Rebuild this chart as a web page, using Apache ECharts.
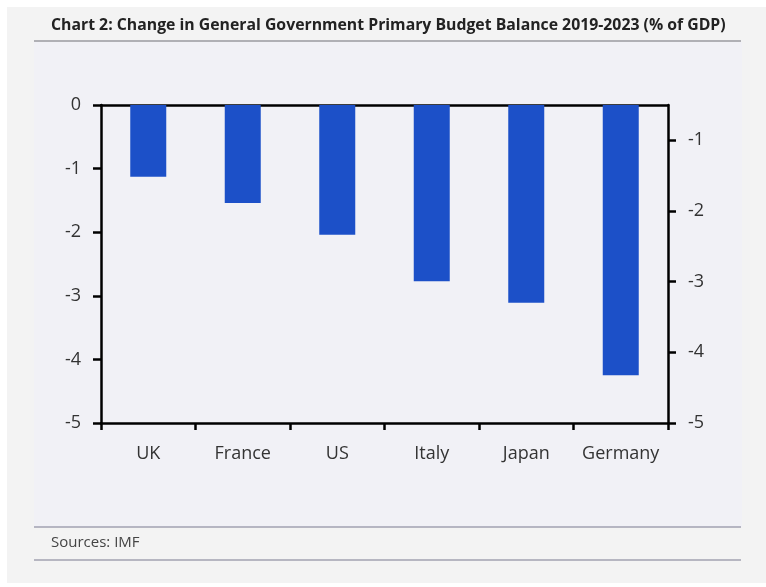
<!DOCTYPE html>
<html><head><meta charset="utf-8">
<script src="https://cdn.jsdelivr.net/npm/echarts@6/dist/echarts.min.js"></script>
<style>html,body{margin:0;padding:0;background:#fff}#c{width:766px;height:587px}</style>
</head><body><div id="c"></div>
<script>
const categories = ['UK', 'France', 'US', 'Italy', 'Japan', 'Germany'];
const values = [-1.13, -1.54, -2.04, -2.77, -3.11, -4.25];
const leftTicks = [0, -1, -2, -3, -4, -5];
const rightTicks = [-1, -2, -3, -4, -5];
const titleText = 'Chart 2: Change in General Government Primary Budget Balance 2019-2023 (% of GDP)';
const sourceText = 'Sources: IMF';

const chart = echarts.init(document.getElementById('c'), null, {renderer: 'canvas'});
const font = '"Open Sans", "Noto Sans", sans-serif';
chart.setOption({
  animation: false,
  backgroundColor: '#ffffff',
  graphic: [
    {type: 'rect', z: -10, shape: {x: 7, y: 7, width: 759, height: 576}, style: {fill: '#f3f3f3'}},
    {type: 'rect', z: -9, shape: {x: 34, y: 42, width: 708, height: 485}, style: {fill: '#f1f1f6'}},
    {type: 'line', z: -5, shape: {x1: 34, y1: 41, x2: 741, y2: 41}, style: {stroke: '#6e6e78', lineWidth: 1.2}},
    {type: 'line', z: -5, shape: {x1: 34, y1: 527, x2: 741, y2: 527}, style: {stroke: '#7a7a90', lineWidth: 1.2}},
    {type: 'line', z: -5, shape: {x1: 34, y1: 560, x2: 741, y2: 560}, style: {stroke: '#7a7a90', lineWidth: 1.2}},
    {type: 'text', left: 51, top: 535, style: {text: sourceText, fill: '#444', font: '15px ' + font}}
  ],
  title: {
    text: titleText, left: 46, top: 12,
    textStyle: {fontFamily: font, fontWeight: 'bold', fontSize: 15.8, color: '#222'}
  },
  grid: {left: 101, right: 98, top: 105, bottom: 164},
  xAxis: [
    {type: 'category', data: categories, position: 'bottom',
      axisLine: {onZero: false, lineStyle: {color: '#000', width: 2.5}},
      axisTick: {show: true, length: 7, interval: 0, lineStyle: {color: '#000', width: 2.5}},
      axisLabel: {color: '#333', fontSize: 18, fontFamily: font, margin: 22, interval: 0}},
    {type: 'category', data: categories, position: 'top',
      axisLine: {onZero: false, lineStyle: {color: '#000', width: 2.5}},
      axisTick: {show: false}, axisLabel: {show: false}}
  ],
  yAxis: [
    {type: 'value', min: -5, max: 0, interval: 1, position: 'left',
      axisLine: {show: true, onZero: false, lineStyle: {color: '#000', width: 2.5}},
      axisTick: {show: true, length: 8, lineStyle: {color: '#000', width: 2.5}},
      splitLine: {show: false},
      axisLabel: {color: '#333', fontSize: 18, fontFamily: font, margin: 20,
        formatter: v => leftTicks.includes(v) ? String(v) : ''}},
    {type: 'value', min: -5, max: -0.5, interval: 1, position: 'right',
      axisLine: {show: true, onZero: false, lineStyle: {color: '#000', width: 2.5}},
      axisTick: {show: true, length: 8, lineStyle: {color: '#000', width: 2.5}},
      splitLine: {show: false},
      axisLabel: {color: '#333', fontSize: 18, fontFamily: font, margin: 20, showMaxLabel: false,
        formatter: v => rightTicks.includes(v) ? String(v) : ''}}
  ],
  series: [{
    type: 'bar', data: values, xAxisIndex: 0, yAxisIndex: 0,
    barWidth: 36, itemStyle: {color: '#1c50c8'}
  }]
});
</script></body></html>
